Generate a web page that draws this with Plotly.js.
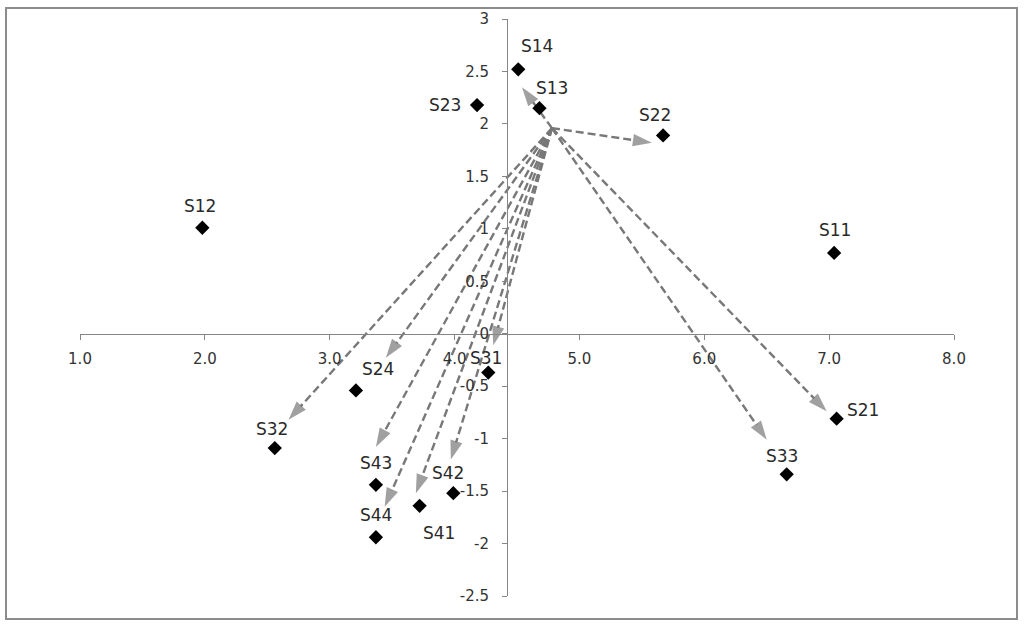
<!DOCTYPE html>
<html>
<head>
<meta charset="utf-8">
<script src="https://cdn.plot.ly/plotly-3.0.1.min.js"></script>
<style>html,body{margin:0;padding:0;background:#fff;}#chart{width:1024px;height:628px;}</style>
</head>
<body>
<div id="chart"></div>
<script>
// Points
const names = ['S11','S12','S13','S14','S21','S22','S23','S24','S31','S32','S33','S41','S42','S43','S44'];
const xVals = [7.04, 1.98, 4.68, 4.51, 7.06, 5.67, 4.18, 3.21, 4.27, 2.56, 6.66, 3.72, 3.99, 3.37, 3.37];
const yVals = [0.77, 1.01, 2.15, 2.52, -0.81, 1.89, 2.18, -0.54, -0.37, -1.09, -1.34, -1.64, -1.52, -1.44, -1.94];
// label offsets in px (style, not data)
const labelDx = [1, -2, 13, 19, 26, -8, -32, 22, -2, -3, -5, 19, -5, 0, 0];
const labelDy = [23, 22, 20, 23, 9, 20, 0, 21, 15, 19, 18, -27, 20, 22, 22];

// Arrows: common origin and tips
const arrowOrigin = [4.78, 1.96];
const arrowTipX = [4.54, 5.58, 6.98, 6.50, 2.67, 3.45, 3.37, 3.44, 3.69, 3.97, 4.31];
const arrowTipY = [2.35, 1.82, -0.74, -1.01, -0.82, -0.23, -1.08, -1.65, -1.52, -1.20, -0.11];

// Tick labels
const xTickVals = [1, 2, 3, 4, 5, 6, 7, 8];
const xTickText = ['1.0', '2.0', '3.0', '4.0', '5.0', '6.0', '7.0', '8.0'];
const yTickVals = [-2.5, -2, -1.5, -1, -0.5, 0, 0.5, 1, 1.5, 2, 2.5, 3];
const yTickText = ['-2.5', '-2', '-1.5', '-1', '-0.5', '0', '0.5', '1', '1.5', '2', '2.5', '3'];

const ax = [], ay = [], asz = [];
for (let i = 0; i < arrowTipX.length; i++) {
  ax.push(arrowOrigin[0], arrowTipX[i], null);
  ay.push(arrowOrigin[1], arrowTipY[i], null);
  asz.push(0, 20, 0);
}

const arrows = {
  type: 'scatter', mode: 'lines+markers', x: ax, y: ay, connectgaps: false,
  line: {color: '#787878', width: 2.4, dash: '8px,4px'},
  marker: {symbol: 'arrow', size: asz, color: '#787878', angleref: 'previous', line: {width: 0}},
  hoverinfo: 'skip', showlegend: false
};

const pts = {
  type: 'scatter', mode: 'markers', x: xVals, y: yVals,
  marker: {symbol: 'diamond', size: 11, color: '#000000'},
  showlegend: false
};

const fontFam = 'DejaVu Sans, sans-serif';
const annotations = names.map((n, i) => ({
  x: xVals[i], y: yVals[i], xref: 'x', yref: 'y', text: n, showarrow: false,
  xanchor: 'center', yanchor: 'middle', xshift: labelDx[i], yshift: labelDy[i],
  font: {family: fontFam, size: 17, color: '#2a2a2a'}
}));

const layout = {
  width: 1024, height: 628,
  margin: {l: 80, r: 70, t: 19, b: 32},
  paper_bgcolor: '#ffffff', plot_bgcolor: '#ffffff',
  showlegend: false,
  annotations: annotations,
  xaxis: {
    range: [1, 8], tickmode: 'array', tickvals: xTickVals, ticktext: xTickText,
    anchor: 'free', position: 2.5 / 5.5,
    showgrid: false, zeroline: false, showline: true, linecolor: '#868686', linewidth: 1,
    ticks: 'outside', ticklen: 5, tickcolor: '#868686', ticklabelstandoff: 6,
    tickfont: {family: fontFam, size: 15, color: '#333333'}
  },
  yaxis: {
    range: [-2.5, 3], tickmode: 'array', tickvals: yTickVals, ticktext: yTickText,
    anchor: 'free', position: (4.42 - 1) / 7,
    showgrid: false, zeroline: false, showline: true, linecolor: '#868686', linewidth: 1,
    ticks: 'outside', ticklen: 5, tickcolor: '#868686', ticklabelstandoff: 10,
    tickfont: {family: fontFam, size: 15, color: '#333333'}
  },
  shapes: [{
    type: 'rect', xref: 'paper', yref: 'paper',
    x0: (6 - 80) / 874, x1: (1017 - 80) / 874,
    y0: (596 - 619) / 577, y1: (596 - 8) / 577,
    line: {color: '#8c8c8c', width: 2}, fillcolor: 'rgba(0,0,0,0)'
  }]
};

Plotly.newPlot('chart', [arrows, pts], layout, {displayModeBar: false, staticPlot: true});
</script>
</body>
</html>
